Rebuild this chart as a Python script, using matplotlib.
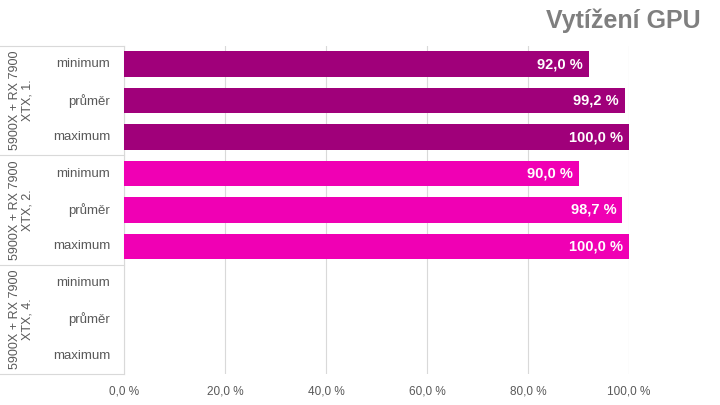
import numpy as np
import matplotlib.pyplot as plt
import matplotlib.transforms as mtransforms

plt.rcParams['font.family'] = ['Liberation Sans', 'DejaVu Sans']

groups = ["5900X + RX 7900\nXTX, 1.", "5900X + RX 7900\nXTX, 2.", "5900X + RX 7900\nXTX, 4."]
metrics = ["minimum", "průměr", "maximum"]
values = [[92.0, 99.2, 100.0],
          [90.0, 98.7, 100.0],
          [None, None, None]]
colors = ["#A0007A", "#F000B4", "#F000B4"]
xticks = [0, 20, 40, 60, 80, 100]

fig = plt.figure(figsize=(7.2, 4.05), dpi=100)
ax = fig.add_axes([124/720, 1-374/405, 505/720, 328/405])

n = len(groups) * len(metrics)
ax.set_ylim(n, 0)
ax.set_xlim(0, 100)

for gi, g in enumerate(groups):
    for mi, m in enumerate(metrics):
        pos = gi*len(metrics) + mi + 0.5
        v = values[gi][mi]
        if v is None:
            continue
        ax.barh(pos, v, height=0.7, color=colors[gi], zorder=3)
        ax.text(v - 1.2, pos, f"{v:.1f} %".replace(".", ","), ha="right", va="center",
                color="white", fontsize=10.5, fontweight="bold", zorder=4)

ax.set_xticks(xticks)
ax.set_xticklabels([f"{t:.1f} %".replace(".", ",") for t in xticks], fontsize=8.5, color="#595959")
ax.tick_params(axis="x", length=0, pad=8)
ax.set_yticks([])
ax.grid(axis="x", color="#D9D9D9", linewidth=0.8, zorder=0)
for s in ["top", "right", "bottom"]:
    ax.spines[s].set_visible(False)
ax.spines["left"].set_color("#D9D9D9")

# category labels on the left
trans = mtransforms.blended_transform_factory(fig.transFigure, ax.transData)
for gi, g in enumerate(groups):
    for mi, m in enumerate(metrics):
        pos = gi*len(metrics) + mi + 0.5
        ax.text(110/720, pos, m, transform=trans, ha="right", va="center",
                fontsize=9.5, color="#595959")
    ax.text(21/720, gi*len(metrics) + 1.5, g, transform=trans, rotation=90,
            ha="center", va="center", fontsize=9, color="#595959", linespacing=1.05)

for k in range(len(groups) + 1):
    ax.plot([0, 124/720], [k*len(metrics)]*2, transform=trans, color="#D9D9D9",
            linewidth=0.8, clip_on=False)

fig.text(701/720, 1-21/405, "Vytížení GPU", ha="right", va="center",
         fontsize=18, fontweight="bold", color="#7F7F7F")

fig.savefig("out.png", dpi=100)
